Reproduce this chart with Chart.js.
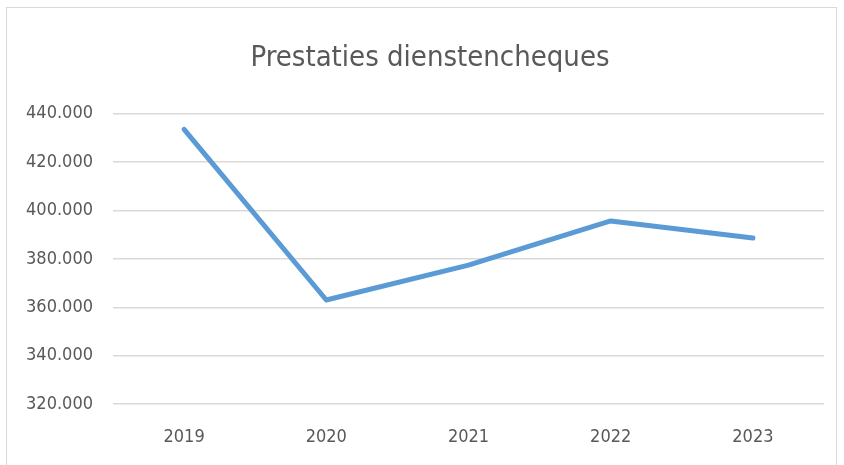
<!DOCTYPE html>
<html>
<head>
<meta charset="utf-8">
<script src="https://cdn.jsdelivr.net/npm/chart.js@4.4.1/dist/chart.umd.min.js"></script>
<style>
  html, body { margin: 0; padding: 0; background: #fff; }
  body { width: 844px; height: 465px; position: relative; overflow: hidden; }
  #frame { position: absolute; left: 6px; top: 7px; width: 831px; height: 480px; border: 1px solid #d9d9d9; box-sizing: border-box; }
  #wrap { position: absolute; left: 0; top: 0; width: 844px; height: 465px; }
</style>
</head>
<body>
<div id="frame"></div>
<div id="wrap"><canvas id="lineChart" width="844" height="465"></canvas></div>
<script>
// data
const years = ['2019', '2020', '2021', '2022', '2023'];
const prestaties = [433600, 363000, 377400, 395700, 388600];
const yMin = 320000;
const yMax = 440000;
const yStep = 20000;

const textColor = '#595959';
const fontFamily = '"Liberation Sans Narrow", "DejaVu Sans Condensed", "Liberation Sans", sans-serif';

// 440000 -> "440.000"
function formatThousands(v) {
    return v.toString().replace(/\B(?=(\d{3})+(?!\d))/g, '.');
}

const ctx = document.getElementById('lineChart').getContext('2d');

new Chart(ctx, {
    type: 'line',
    data: {
        labels: years,
        datasets: [{
            label: 'Prestaties dienstencheques',
            data: prestaties,
            borderColor: '#5b9bd5',
            borderWidth: 5,
            borderCapStyle: 'round',
            borderJoinStyle: 'round',
            pointRadius: 0,
            tension: 0,
            fill: false
        }]
    },
    options: {
        responsive: false,
        animation: false,
        // left padding only, so the title centre lands at ~430
        layout: { padding: { top: 0, left: 16, right: 0, bottom: 0 } },
        plugins: {
            legend: { display: false },
            tooltip: { enabled: false },
            title: {
                display: true,
                text: 'Prestaties dienstencheques',
                color: textColor,
                font: { family: fontFamily, size: 29, weight: 'normal' },
                padding: { top: 41, bottom: 38 }
            }
        },
        scales: {
            x: {
                offset: true,
                grid: { display: false, drawTicks: false },
                border: { display: false },
                ticks: {
                    color: textColor,
                    font: { family: fontFamily, size: 18 },
                    padding: 23
                },
                afterFit: (scale) => { scale.height = 61; }
            },
            y: {
                min: yMin,
                max: yMax,
                grid: { color: '#d9d9d9', lineWidth: 1.5, drawTicks: false },
                border: { display: false },
                ticks: {
                    stepSize: yStep,
                    color: textColor,
                    font: { family: fontFamily, size: 18 },
                    padding: 20,
                    callback: (v) => formatThousands(v)
                },
                afterFit: (scale) => { scale.width = 97; }
            },
            // empty right axis, just keeps the plot 20px from the right edge
            yRight: {
                position: 'right',
                grid: { display: false, drawTicks: false },
                border: { display: false },
                ticks: { display: false },
                afterFit: (scale) => { scale.width = 20; }
            }
        }
    }
});
</script>
</body>
</html>
